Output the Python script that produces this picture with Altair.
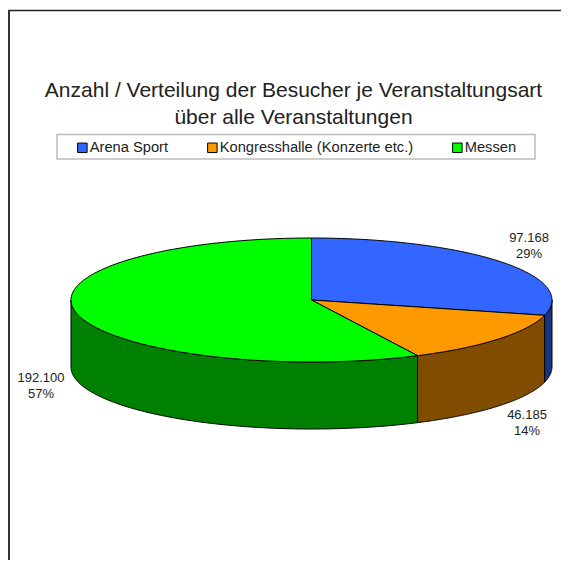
import numpy as np
import pandas as pd
import altair as alt

categories = ["Arena Sport", "Kongresshalle (Konzerte etc.)", "Messen"]
visitors = [97168, 46185, 192100]
value_labels = ["97.168\n29%", "46.185\n14%", "192.100\n57%"]
top_colors = ["#3366FF", "#FF9900", "#00FF00"]
side_colors = ["#1A3380", "#804D00", "#008000"]
title_lines = ["Anzahl / Verteilung der Besucher je Veranstaltungsart", "über alle Veranstaltungen"]

label_x = [529, 527, 41]
label_y = [238, 415, 378]

# pie geometry, in picture units
CX, CY, RX, RY, DEPTH = 311.5, 300.0, 240.5, 62.0, 67.0
W, H = 553, 552

fractions = np.array(visitors) / sum(visitors)
edges = np.concatenate([[0], np.cumsum(fractions)]) * 2 * np.pi


def rim(angles, drop=0.0):
    return CX + RX * np.sin(angles), CY - RY * np.cos(angles) + drop


top_rows, side_rows = [], []
for k, cat in enumerate(categories):
    a = np.linspace(edges[k], edges[k + 1], 160)
    xs, ys = rim(a)
    xs = np.r_[CX, xs, CX]
    ys = np.r_[CY, ys, CY]
    for i, (x, y) in enumerate(zip(xs, ys)):
        top_rows.append({"cat": cat, "i": i, "x": x, "y": y})
    lo, hi = max(edges[k], np.pi / 2), min(edges[k + 1], 3 * np.pi / 2)
    if hi > lo:
        b = np.linspace(lo, hi, 160)
        x1, y1 = rim(b)
        x2, y2 = rim(b[::-1], DEPTH)
        xs = np.r_[x1, x2, x1[0]]
        ys = np.r_[y1, y2, y1[0]]
        for i, (x, y) in enumerate(zip(xs, ys)):
            side_rows.append({"cat": cat, "i": i, "x": x, "y": y})

top = pd.DataFrame(top_rows)
side = pd.DataFrame(side_rows)
labels = pd.DataFrame({"x": label_x, "y": label_y, "t": value_labels})

xs = alt.Scale(domain=[8, 8 + W], range=[0, W], nice=False, zero=False)
ys = alt.Scale(domain=[8, 8 + H], range=[0, H], nice=False, zero=False)
X = alt.X("x:Q", scale=xs, axis=None)
Y = alt.Y("y:Q", scale=ys, axis=None)

layers = []

# outer frame (top and left edges only)
frame_top = pd.DataFrame({"x": [8], "x2": [8 + W], "y": [10.5]})
frame_left = pd.DataFrame({"x": [9], "y": [10], "y2": [8 + H]})
layers.append(alt.Chart(frame_top).mark_rule(color="#222222", strokeWidth=1.5).encode(x=X, x2="x2:Q", y=Y))
layers.append(alt.Chart(frame_left).mark_rule(color="#333333", strokeWidth=2).encode(x=X, y=Y, y2="y2:Q"))

# legend box
box = pd.DataFrame({"x": [57], "x2": [535], "y": [134.5], "y2": [159]})
layers.append(alt.Chart(box).mark_rect(fill="white", stroke="#BDBDBD", strokeWidth=1.5).encode(x=X, x2="x2:Q", y=Y, y2="y2:Q"))

# side walls
for cat, col in zip(categories, side_colors):
    d = side[side.cat == cat]
    if len(d):
        layers.append(
            alt.Chart(d).mark_line(fill=col, stroke="black", strokeWidth=1, interpolate="linear")
            .encode(x=X, y=Y, order="i:Q")
        )

# top face with legend
layers.append(
    alt.Chart(top).mark_line(stroke="black", strokeWidth=1, interpolate="linear").encode(
        x=X, y=Y, order="i:Q",
        fill=alt.Fill("cat:N", scale=alt.Scale(domain=categories, range=top_colors),
                      legend=alt.Legend(title=None, orient="none", legendX=67, legendY=132, direction="horizontal",
                                        columns=3, columnPadding=36, padding=0, symbolType="square", symbolSize=90,
                                        symbolStrokeColor="black", symbolStrokeWidth=1, symbolOpacity=1,
                                        labelFont="Liberation Sans", labelFontSize=14.7, labelColor="#222222",
                                        labelOffset=0, labelLimit=300)),
    )
)

layers.append(
    alt.Chart(labels).mark_text(font="Liberation Sans", fontSize=13, color="#222222", lineBreak="\n", lineHeight=16,
                                align="center", baseline="middle").encode(x=X, y=Y, text="t:N")
)

chart = alt.layer(*layers).properties(
    width=W, height=H, padding=0,
    autosize=alt.AutoSizeParams(type="none"),
    title=alt.TitleParams(text=title_lines, font="Liberation Sans", fontSize=21, fontWeight="normal", color="#222222",
                          anchor="middle", frame="group", dy=120, dx=9, lineHeight=27, baseline="top", offset=0),
).configure_view(stroke=None)

chart.save("out.html", embed_options={"renderer": "svg", "actions": False})
